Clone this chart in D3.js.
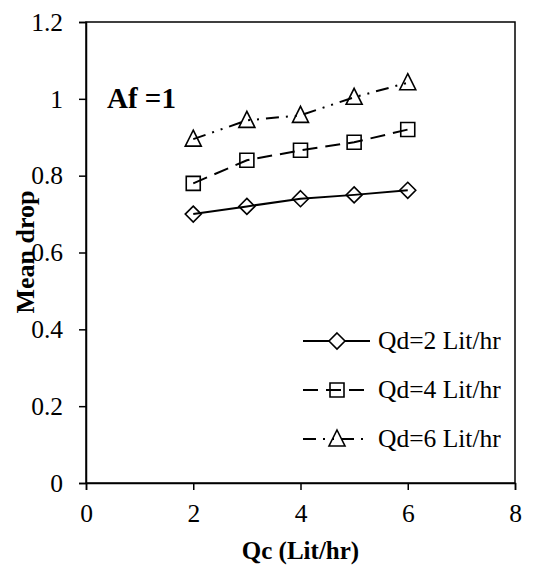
<!DOCTYPE html>
<html>
<head>
<meta charset="utf-8">
<script src="https://cdn.jsdelivr.net/npm/d3@7"></script>
<style>
  body { margin: 0; background: #fff; }
  svg text { font-family: "Liberation Serif", "Times New Roman", serif; fill: #000; }
</style>
</head>
<body>
<svg id="chart" width="533" height="565"></svg>
<script>
// data
const qc = [2, 3, 4, 5, 6];
const qd2 = [0.70, 0.72, 0.74, 0.75, 0.762];
const qd4 = [0.78, 0.84, 0.866, 0.887, 0.92];
const qd6 = [0.895, 0.944, 0.957, 1.004, 1.042];
const seriesNames = ['Qd=2 Lit/hr', 'Qd=4 Lit/hr', 'Qd=6 Lit/hr'];
const xTicks = [0, 2, 4, 6, 8];
const yTicks = [0, 0.2, 0.4, 0.6, 0.8, 1, 1.2];

const svg = d3.select('#chart');
const margin = { top: 22, right: 18, bottom: 82, left: 86 };
const width = +svg.attr('width');
const height = +svg.attr('height');
const innerWidth = width - margin.left - margin.right;
const innerHeight = height - margin.top - margin.bottom;

const xScale = d3.scaleLinear().domain([0, 8]).range([0, innerWidth]);
const yScale = d3.scaleLinear().domain([0, 1.2]).range([innerHeight, 0]);

const serif = '"Liberation Serif", "Times New Roman", serif';

const g = svg.append('g')
  .attr('transform', `translate(${margin.left},${margin.top})`);

// frame
g.append('rect')
  .attr('width', innerWidth)
  .attr('height', innerHeight)
  .attr('fill', 'none')
  .attr('stroke', '#000')
  .attr('stroke-width', 1.5);

// axes
const xAxisG = g.append('g')
  .attr('transform', `translate(0,${innerHeight})`)
  .call(d3.axisBottom(xScale).tickValues(xTicks).tickSize(7).tickPadding(14).tickFormat(d3.format('d')));
const yAxisG = g.append('g')
  .call(d3.axisLeft(yScale).tickValues(yTicks).tickSize(7).tickPadding(16).tickFormat(d => d === 0 || d === 1 ? d : d3.format('.1f')(d)));

[xAxisG, yAxisG].forEach(a => {
  a.attr('font-family', serif).attr('font-size', 25.5);
  a.select('.domain').attr('stroke', '#000').attr('stroke-width', 1.5);
  a.selectAll('.tick line').attr('stroke', '#000').attr('stroke-width', 1.5);
  a.selectAll('.tick text')
    .style('font-family', serif)
    .style('font-size', '25.5px')
    .attr('fill', '#000');
});

// titles
svg.append('text')
  .attr('x', margin.left + innerWidth / 2)
  .attr('y', 559)
  .attr('text-anchor', 'middle')
  .style('font-size', '25px')
  .style('font-weight', 'bold')
  .text('Qc (Lit/hr)');

svg.append('text')
  .attr('transform', `translate(34,252) rotate(-90)`)
  .attr('text-anchor', 'middle')
  .style('font-size', '26px')
  .style('font-weight', 'bold')
  .text('Mean drop');

g.append('text')
  .attr('x', 21)
  .attr('y', 86)
  .style('font-size', '29px')
  .style('font-weight', 'bold')
  .text('Af =1');

// series
const series = [
  { name: seriesNames[0], values: qd2, dash: null, marker: 'M0,-8L8,0L0,8L-8,0Z' },
  { name: seriesNames[1], values: qd4, dash: '15,8', marker: 'M-7,-7H7V7H-7Z' },
  { name: seriesNames[2], values: qd6, dash: '13,7,2,7,2,7', marker: 'M0,-9L8,7L-8,7Z' }
];

const lineGen = d3.line()
  .x((d, i) => xScale(qc[i]))
  .y(d => yScale(d));

series.forEach(s => {
  g.append('path')
    .datum(s.values)
    .attr('d', lineGen)
    .attr('fill', 'none')
    .attr('stroke', '#000')
    .attr('stroke-width', 2)
    .attr('stroke-dasharray', s.dash);

  g.selectAll(null)
    .data(s.values)
    .enter().append('path')
      .attr('d', s.marker)
      .attr('transform', (d, i) => `translate(${xScale(qc[i])},${yScale(d)})`)
      .attr('fill', 'none')
      .attr('stroke', '#000')
      .attr('stroke-width', 1.6);
});

// legend
const legend = svg.append('g').attr('transform', 'translate(303,341)');
series.forEach((s, i) => {
  const row = legend.append('g').attr('transform', `translate(0,${i * 49})`);
  row.append('line')
    .attr('x1', 0).attr('x2', 67)
    .attr('y1', 0).attr('y2', 0)
    .attr('stroke', '#000')
    .attr('stroke-width', 2)
    .attr('stroke-dasharray', s.dash);
  row.append('path')
    .attr('d', s.marker)
    .attr('transform', 'translate(34,0)')
    .attr('fill', i === 0 ? '#fff' : 'none')
    .attr('stroke', '#000')
    .attr('stroke-width', 1.6);
  row.append('text')
    .attr('x', 75)
    .attr('y', 8)
    .style('font-size', '25.5px')
    .text(s.name);
});
</script>
</body>
</html>
